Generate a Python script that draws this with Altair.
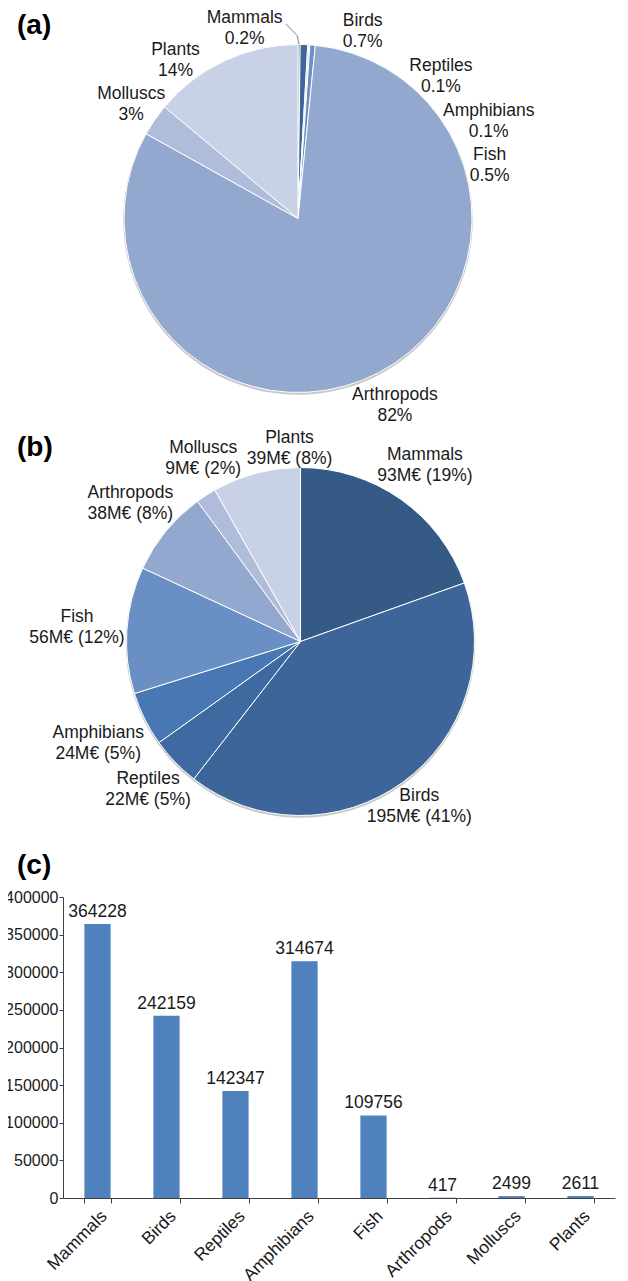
import math
import altair as alt
import pandas as pd

# ---------------- data ----------------
categories = ["Mammals", "Birds", "Reptiles", "Amphibians", "Fish", "Arthropods", "Molluscs", "Plants"]
species_share = [0.2, 0.7, 0.1, 0.1, 0.5, 82, 3, 14]
species_share_text = ["0.2%", "0.7%", "0.1%", "0.1%", "0.5%", "82%", "3%", "14%"]
cost_meur = [93, 195, 22, 24, 56, 38, 9, 39]
cost_share = [19, 41, 5, 5, 12, 8, 2, 8]
bar_values = [364228, 242159, 142347, 314674, 109756, 417, 2499, 2611]
y_tick_values = [0, 50000, 100000, 150000, 200000, 250000, 300000, 350000, 400000]
panel_letters = ["(a)", "(b)", "(c)"]

# ---------------- styling ----------------
PALETTE = ["#355a86", "#3d6599", "#3f69a1", "#4878b3", "#6a8fc4", "#93a8cf", "#afbdda", "#c8d1e5"]
BAR = "#4f81bd"
FONT = "Liberation Sans"
FS = 17.5
LH = 21
INK = 15
TXT = "#1a1a1a"
AX = "#404040"

W, H = 552, 1190
PAD = {"left": 55, "top": 0, "right": 5, "bottom": 83}
R = 174
CA = (235, 210.5)     # centre of pie (a) in view pixels
CB = (237.5, 633.5)   # centre of pie (b) in view pixels


def text_w(s, fs=FS):
    w = 0.0
    for ch in s:
        if ch in "il.,'|j":
            w += 0.23
        elif ch in "rt()f ":
            w += 0.31
        elif ch in "mMw%":
            w += 0.86
        elif ch in "ABCDEHKNRUV":
            w += 0.70
        else:
            w += 0.55
    return w * fs


def place_labels(values, texts, gap=2, back=16, mx_tiny=58, mx=6, my=8):
    total = float(sum(values))
    mids, cum = [], 0.0
    for v in values:
        mids.append((cum + v / 2) / total * 360)
        cum += v
    n = len(values)
    tiny = [v / total < 0.01 for v in values]
    lines_of = [t.split("\n") for t in texts]

    def line_boxes(i, x, y):
        ls = lines_of[i]
        out = []
        for k, l in enumerate(ls):
            ly = y + (k - (len(ls) - 1) / 2) * LH
            w = text_w(l)
            out.append((x - w / 2, x + w / 2, ly - INK / 2, ly + INK / 2))
        return out

    def dist(b):
        dx = max(b[0], -b[1], 0)
        dy = max(b[2], -b[3], 0)
        return math.hypot(dx, dy)

    def center(i, ang):
        a = math.radians(ang)
        s, c = math.sin(a), -math.cos(a)
        d = R
        while d < R + 300:
            if min(dist(b) for b in line_boxes(i, d * s, d * c)) >= R + gap:
                break
            d += 0.5
        return d, d * s, d * c

    def box(i, ang):
        _, x, y = center(i, ang)
        w = max(text_w(l) for l in lines_of[i])
        h = LH * (len(lines_of[i]) - 1) + INK
        return (x - w / 2, x + w / 2, y - h / 2, y + h / 2)

    def overlap(i, bi, j, bj):
        gx = mx_tiny if (tiny[i] and tiny[j]) else mx
        return (bi[0] < bj[1] + gx and bj[0] < bi[1] + gx and
                bi[2] < bj[3] + my and bj[2] < bi[3] + my)

    angles = [None] * n
    order = sorted(range(n), key=lambda i: mids[i])
    prev_tiny = False
    for i in order:
        ang = mids[i] - (back if (tiny[i] and not prev_tiny) else 0)
        prev_tiny = tiny[i]
        for _ in range(400):
            b = box(i, ang)
            hits = [j for j in range(n) if angles[j] is not None and overlap(i, b, j, box(j, angles[j]))]
            if not hits:
                break
            ahead = any(((mids[j] - mids[i]) % 360) < 180 for j in hits)
            ang += -0.5 if ahead else 0.5
        angles[i] = ang

    rows, leaders = [], []
    for i in range(n):
        d, x, y = center(i, angles[i])
        rows.append({"label": texts[i], "lab_deg": angles[i] % 360, "lab_r": d})
        if tiny[i] and angles[i] - mids[i] < -5:
            m = math.radians(mids[i])
            first_w = text_w(lines_of[i][0])
            ex, ey = R * math.sin(m), -R * math.cos(m)
            kx, ky = (R + 9) * math.sin(m) - 2, -(R + 9) * math.cos(m)
            lx, ly = x + first_w / 2 + 2, y - 4
            for k, (px, py) in enumerate([(lx, ly), (kx, ky), (ex, ey)]):
                leaders.append({"k": k, "px": px, "py": py})
    return pd.DataFrame(rows), pd.DataFrame(leaders)


def pie(values, texts, c):
    cx, cy = c
    df = pd.DataFrame({"cat": categories, "value": values, "idx": list(range(len(values)))})
    lab_df, lead_df = place_labels(values, texts)
    shadow = alt.Chart(df).mark_arc(radius=R + 0.8, color="#c8c8c8").encode(
        theta=alt.Theta("value:Q", stack=True),
        detail="cat:N",
        order=alt.Order("idx:Q"),
        x=alt.value(cx), y=alt.value(cy + 1.5),
    )
    arcs = alt.Chart(df).mark_arc(radius=R, stroke="white", strokeWidth=1).encode(
        theta=alt.Theta("value:Q", stack=True),
        color=alt.Color("cat:N", scale=alt.Scale(domain=categories, range=PALETTE), legend=None),
        order=alt.Order("idx:Q"),
        x=alt.value(cx), y=alt.value(cy),
    )
    # Vega starts a multi-line text at the anchor; shift up half a line to centre the block
    text = alt.Chart(lab_df).mark_text(
        font=FONT, fontSize=FS, lineHeight=LH, lineBreak="\n",
        align="center", baseline="middle", color=TXT, dy=-(LH / 2) + 1,
    ).encode(
        theta=alt.Theta("lab_deg:Q", scale=alt.Scale(domain=[0, 360], range=[0, 2 * math.pi]), stack=None),
        radius=alt.Radius("lab_r:Q", scale=None),
        text="label:N",
        x=alt.value(cx), y=alt.value(cy),
    )
    layers = [shadow, arcs, text]
    if len(lead_df):
        lead_df["lx"] = lead_df["px"] + cx
        lead_df["ly"] = lead_df["py"] + cy
        leader = alt.Chart(lead_df).mark_line(color="#7f7f7f", strokeWidth=1).encode(
            x=alt.X("lx:Q", scale=None, axis=None),
            y=alt.Y("ly:Q", scale=None, axis=None),
            order="k:Q",
        )
        layers.append(leader)
    return layers


texts_a = [f"{c}\n{p}" for c, p in zip(categories, species_share_text)]
texts_b = [f"{c}\n{v}M€ ({p}%)" for c, v, p in zip(categories, cost_meur, cost_share)]

layers_a = pie(species_share, texts_a, CA)
layers_b = pie(cost_meur, texts_b, CB)

# ---------------- bar chart (c) ----------------
bar_df = pd.DataFrame({"cat": categories, "v": bar_values})
xe = alt.X(
    "cat:N", sort=categories, title=None,
    scale=alt.Scale(paddingInner=0.62, paddingOuter=0.31),
    axis=alt.Axis(
        labelAngle=-45, labelAlign="right", labelBaseline="top", labelPadding=4,
        tickBand="extent", tickSize=5, tickColor=AX, domainColor=AX,
        labelFont=FONT, labelFontSize=FS, labelColor=TXT, grid=False,
    ),
)
ye = alt.Y(
    "v:Q", title=None,
    scale=alt.Scale(domain=[0, 400000], range=[H, H - 301], nice=False),
    axis=alt.Axis(
        values=y_tick_values, format="d", tickSize=4, labelPadding=1,
        tickColor=AX, domainColor=AX, labelFont=FONT, labelFontSize=16,
        labelColor=TXT, grid=False,
    ),
)
bars = alt.Chart(bar_df).mark_bar(color=BAR).encode(x=xe, y=ye)
bar_text = alt.Chart(bar_df).mark_text(
    dy=-7, baseline="alphabetic", font=FONT, fontSize=FS, color=TXT
).encode(x=xe, y=ye, text=alt.Text("v:Q", format="d"))

# ---------------- panel letters ----------------
letter_y = [18, 440, 858]
letters = [
    alt.Chart(pd.DataFrame({"t": [s]})).mark_text(
        font=FONT, fontSize=28, fontWeight="bold", align="left", baseline="middle", color="#000"
    ).encode(text="t:N", x=alt.value(-46), y=alt.value(yy))
    for s, yy in zip(panel_letters, letter_y)
]

chart = alt.layer(
    *layers_a, *layers_b, bars, bar_text, *letters
).resolve_scale(
    theta="independent"
).properties(
    width=W, height=H, padding=PAD, autosize=alt.AutoSizeParams(type="none")
).configure_view(stroke=None)

chart.save("out.html", embed_options={"renderer": "svg", "actions": False})
